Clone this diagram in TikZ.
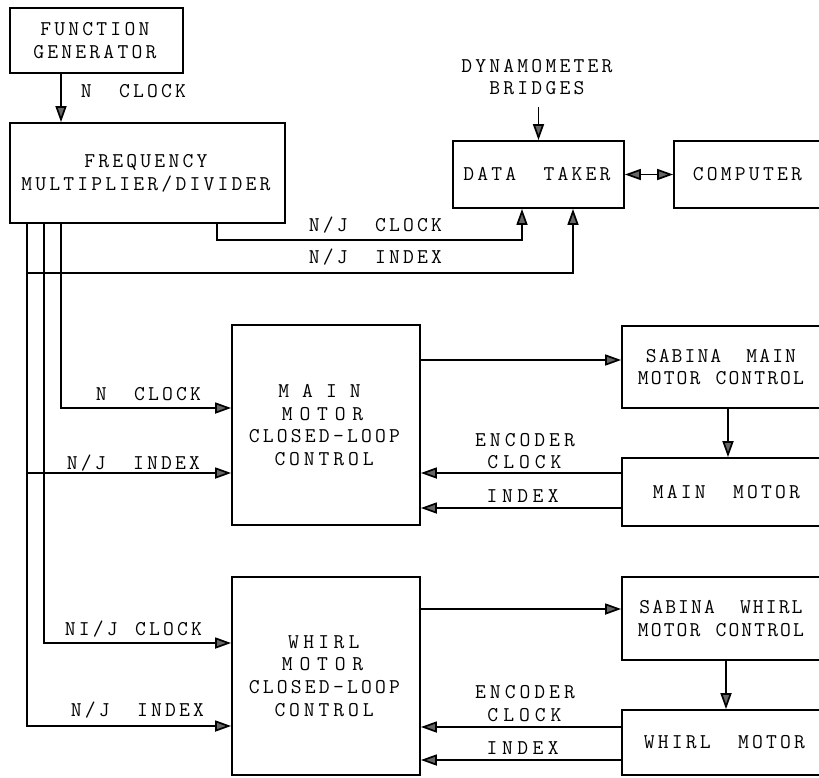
\documentclass[tikz,border=0pt]{standalone}
\usepackage{fontspec}
\usetikzlibrary{arrows.meta}
\newlength\lsamt
\def\lspaux#1{\ifx#1\relax\else#1\kern\lsamt\expandafter\lspaux\fi}
\newcommand{\ls}[2]{{\setlength\lsamt{#1pt}\lspaux#2\relax}}
\newcommand{\lt}[1]{\ls{3.2}{#1}}
\newcommand{\wsp}{\hspace{21pt}}
\newcommand{\ws}{\hspace{11pt}}

\begin{document}
\begin{tikzpicture}[x=1pt,y=-1pt,line join=miter,
    >={Triangle[length=16pt,width=11pt,fill=black!60]},
    txt/.style={font=\ttfamily\fontsize{21}{22.7}\selectfont,inner sep=0pt,align=center},
    blk/.style={txt,draw,line width=1.8pt},
    sig/.style={line width=1.7pt,->}]
  \clip (0,0) rectangle (819,777);
  \node[blk,minimum width=173pt,minimum height=65pt] (fg) at (96.5,40.5) {\lt{FUNCTION}\\\lt{GENERATOR}};
  \node[blk,minimum width=275pt,minimum height=100pt] (fmd) at (147.5,173) {\lt{FREQUENCY}\\\lt{MULTIPLIER/DIVIDER}};
  \node[blk,minimum width=171pt,minimum height=67pt] (dt) at (538.5,174.5) {\lt{DATA\wsp TAKER}};
  \node[blk,minimum width=150pt,minimum height=67pt] (comp) at (749,174.5) {\lt{COMPUTER}};
  \node[blk,minimum width=188pt,minimum height=200pt] (mcl) at (326,425) {\ls{13}{MAIN}\\\ls{6.8}{MOTOR}\\\lt{CLOSED-LOOP}\\\ls{3.9}{CONTROL}};
  \node[blk,minimum width=200pt,minimum height=82pt] (smc) at (722,367) {\ls{2.1}{SABINA\wsp MAIN}\\\ls{2.1}{MOTOR\ws CONTROL}};
  \node[blk,minimum width=212pt,minimum height=68pt] (mm) at (728,492) {\lt{MAIN\wsp MOTOR}};
  \node[blk,minimum width=188pt,minimum height=198pt] (wcl) at (326,676) {\ls{4.3}{WHIRL}\\\ls{6.8}{MOTOR}\\\lt{CLOSED-LOOP}\\\ls{3.9}{CONTROL}};
  \node[blk,minimum width=200pt,minimum height=83pt] (swc) at (722,618.5) {\ls{2.1}{SABINA\wsp WHIRL}\\\ls{2.1}{MOTOR\ws CONTROL}};
  \node[blk,minimum width=208pt,minimum height=65pt] (wm) at (726,742.5) {\lt{WHIRL\wsp MOTOR}};

  \node[txt] (lfg) at (135,91) {\lt{N\wsp CLOCK}};
  \node[txt] (ldyn) at (538.5,77) {\lt{DYNAMOMETER}\\\lt{BRIDGES}};
  \node[txt] (ldtc) at (377,225) {\lt{N/J\wsp CLOCK}};
  \node[txt] (ldti) at (377,257) {\lt{N/J\wsp INDEX}};
  \node[txt] (lmck) at (150,394) {\lt{N\wsp CLOCK}};
  \node[txt] (lmix) at (135,463) {\lt{N/J\wsp INDEX}};
  \node[txt] (lwck) at (135,629) {\lt{NI/J\ws CLOCK}};
  \node[txt] (lwix) at (139,710) {\lt{N/J\wsp INDEX}};
  \node[txt] (lmenc) at (527,451) {\ls{4}{ENCODER}\\\ls{5}{CLOCK}};
  \node[txt] (lmidx) at (525,496) {\ls{4.5}{INDEX}};
  \node[txt] (lwenc) at (527,703.5) {\ls{4}{ENCODER}\\\ls{5}{CLOCK}};
  \node[txt] (lwidx) at (525,748) {\ls{4.5}{INDEX}};

  \coordinate (b1) at (27,0);
  \coordinate (b2) at (44,0);
  \coordinate (b3) at (61,0);
  \coordinate (njc) at (522,240);
  \coordinate (nji) at (573,273);
  \coordinate (mclck) at ([yshift=17pt]mcl.west);
  \coordinate (mclix) at ([yshift=-48pt]mcl.west);
  \coordinate (wclck) at ([yshift=33pt]wcl.west);
  \coordinate (wclix) at ([yshift=-50pt]wcl.west);
  \coordinate (smcin) at ([yshift=7pt]smc.west);
  \coordinate (swcin) at ([yshift=9.5pt]swc.west);
  \coordinate (mmck) at ([yshift=19pt]mm.west);
  \coordinate (mmix) at ([yshift=-16pt]mm.west);
  \coordinate (wmck) at ([yshift=15.5pt]wm.west);
  \coordinate (wmix) at ([yshift=-17.5pt]wm.west);

  \draw[sig] (fg.south -| b3) -- (fmd.north -| b3);
  \draw[sig] ([yshift=-12pt]ldyn.south) -- (dt.north);
  \draw[sig,<->] (dt) -- (comp);
  \draw[sig] ([xshift=69.5pt]fmd.south) |- (njc) -- (njc |- dt.south);
  \draw[sig] (b1 |- nji) -- (nji) -- (nji |- dt.south);
  \draw[sig] (fmd.south -| b3) |- (mclck);
  \draw[sig] (fmd.south -| b2) |- (wclck);
  \draw[sig] (fmd.south -| b1) |- (wclix);
  \draw[sig] (b1 |- mclix) -- (mclix);
  \draw[sig] (mcl.east |- smcin) -- (smcin);
  \draw[sig] (smc.south -| mm.north) -- (mm.north);
  \draw[sig] (mmck) -- (mcl.east |- mmck);
  \draw[sig] (mmix) -- (mcl.east |- mmix);
  \draw[sig] (wcl.east |- swcin) -- (swcin);
  \draw[sig] (swc.south -| wm.north) -- (wm.north);
  \draw[sig] (wmck) -- (wcl.east |- wmck);
  \draw[sig] (wmix) -- (wcl.east |- wmix);
\end{tikzpicture}
\end{document}
